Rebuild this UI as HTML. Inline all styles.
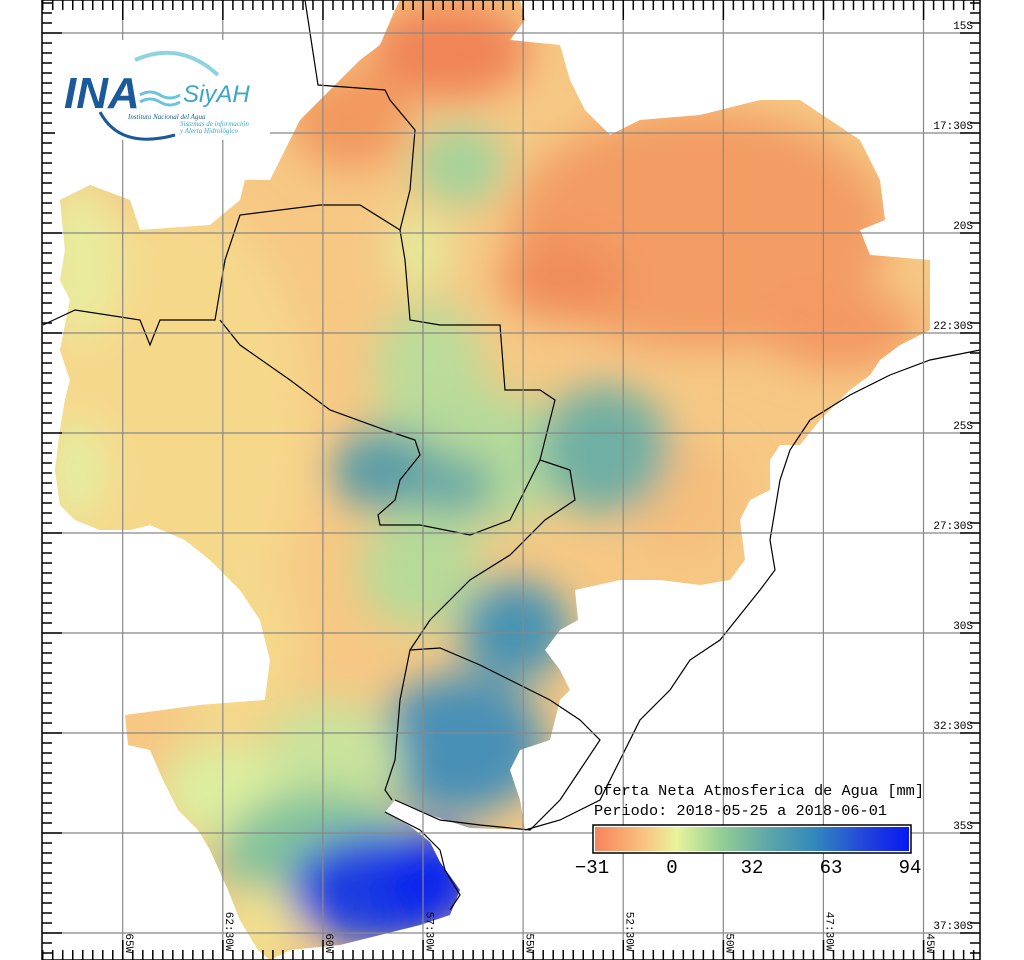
<!DOCTYPE html>
<html><head><meta charset="utf-8"><style>
html,body{margin:0;padding:0;background:#fff;}
svg{display:block;}
text{font-family:"Liberation Mono","DejaVu Sans Mono",monospace;}
</style></head><body>
<svg id="s" width="1024" height="960" viewBox="0 0 1024 960" xmlns="http://www.w3.org/2000/svg">
<defs>
<clipPath id="land">
<path d="M395,10 L400,0 L520,0 L525,20 L510,40 L560,45 L570,80 L585,110 L610,135 L640,120 L700,115 L760,100 L800,100 L830,120 L860,140 L880,180 L885,220 L860,230 L870,255 L930,260 L930,330 L900,345 L880,360 L870,375 L850,390 L820,420 L800,445 L780,445 L770,460 L770,490 L750,500 L740,520 L745,560 L730,580 L700,585 L660,580 L620,580 L575,590 L578,620 L560,630 L545,650 L560,670 L570,690 L560,700 L550,740 L520,750 L510,770 L520,800 L525,830 L470,828 L430,815 L395,800 L385,812 L410,826 L430,842 L440,862 L460,890 L450,915 L420,925 L380,935 L340,945 L290,950 L270,960 L258,950 L240,920 L228,890 L210,850 L198,830 L178,810 L163,780 L150,750 L128,745 L125,715 L200,705 L265,700 L270,660 L260,620 L240,590 L210,560 L185,540 L150,525 L130,530 L100,530 L75,520 L60,505 L55,470 L60,430 L65,400 L70,380 L60,350 L70,300 L60,280 L65,250 L60,200 L90,185 L130,200 L140,230 L210,225 L240,200 L245,180 L270,180 L280,160 L300,120 L330,90 L360,60 L380,45 Z"/>
</clipPath>
<filter id="bl" x="-20%" y="-20%" width="140%" height="140%"><feGaussianBlur stdDeviation="20"/></filter>
<linearGradient id="cb" x1="0" x2="1" y1="0" y2="0">
<stop offset="0" stop-color="#f7845a"/><stop offset="0.15" stop-color="#f9c07e"/>
<stop offset="0.26" stop-color="#e9f39c"/><stop offset="0.4" stop-color="#94cf94"/>
<stop offset="0.55" stop-color="#5fa6a8"/><stop offset="0.7" stop-color="#3288bc"/>
<stop offset="0.85" stop-color="#2348d8"/><stop offset="1" stop-color="#0818f4"/>
</linearGradient>
</defs>
<g clip-path="url(#land)">
<rect x="0" y="0" width="1024" height="960" fill="#f6c884"/>
<g filter="url(#bl)">
<ellipse cx="170" cy="430" rx="140" ry="230" fill="#f6d88b"/>
<ellipse cx="80" cy="260" rx="40" ry="80" fill="#e9ec9e"/>
<ellipse cx="75" cy="470" rx="30" ry="50" fill="#e4eea0"/>
<ellipse cx="230" cy="640" rx="70" ry="90" fill="#f5d98b"/>
<ellipse cx="450" cy="50" rx="80" ry="50" fill="#f08456"/>
<ellipse cx="350" cy="120" rx="60" ry="50" fill="#f2995f"/>
<ellipse cx="700" cy="230" rx="190" ry="120" fill="#f39c63"/>
<ellipse cx="560" cy="280" rx="60" ry="40" fill="#f08c5a"/>
<ellipse cx="840" cy="330" rx="80" ry="40" fill="#f39a62"/>
<ellipse cx="680" cy="500" rx="60" ry="60" fill="#f5be7c"/>
<ellipse cx="460" cy="165" rx="45" ry="40" fill="#a3d39b"/>
<ellipse cx="420" cy="250" rx="30" ry="40" fill="#e4ec9c"/>
<ellipse cx="430" cy="370" rx="55" ry="70" fill="#bcdc9a"/>
<ellipse cx="470" cy="460" rx="110" ry="70" fill="#b5da9a"/>
<ellipse cx="385" cy="470" rx="55" ry="40" fill="#5a9ca7"/>
<ellipse cx="450" cy="485" rx="45" ry="30" fill="#6aa9a4"/>
<ellipse cx="605" cy="450" rx="65" ry="65" fill="#70afa3"/>
<ellipse cx="420" cy="570" rx="60" ry="60" fill="#b7da98"/>
<ellipse cx="515" cy="630" rx="55" ry="50" fill="#4a93b2"/>
<ellipse cx="460" cy="745" rx="85" ry="70" fill="#4990b6"/>
<ellipse cx="330" cy="760" rx="70" ry="60" fill="#c9e39c"/>
<ellipse cx="220" cy="790" rx="60" ry="50" fill="#dcee9f"/>
<ellipse cx="320" cy="860" rx="100" ry="70" fill="#82c29c"/>
<ellipse cx="380" cy="890" rx="90" ry="55" fill="#1d3ee0"/>
<ellipse cx="430" cy="880" rx="50" ry="50" fill="#0d28ec"/>
<ellipse cx="260" cy="925" rx="40" ry="40" fill="#f1e08e"/>
</g>
</g>
<g fill="none" stroke="#000" stroke-width="1.2">
<polyline points="305,0 318,85 385,90 390,100 415,130 410,190 400,230 405,260 410,320 440,325 500,325 505,390 540,390 555,400 545,440 540,460 570,470 575,500 545,520 510,555 470,580 430,620 410,650 400,700 395,760 385,790 392,800"/>
<polyline points="43,325 75,310 140,320 150,345 160,320 215,320 225,260 240,215 320,205 360,205 400,230"/>
<polyline points="220,320 240,345 290,380 330,410 385,430 415,440 420,455 400,480 395,500 378,515 380,525 420,525 470,535 510,520 540,460"/>
<polyline points="410,650 440,648 480,665 510,680 550,700 580,720 600,740 580,770 560,800 530,830 480,825 440,820 395,800"/>
<polyline points="525,830 560,820 600,800 640,720 670,690 690,660 720,640 760,590 775,570 770,540 780,480 790,450 810,420 850,395 890,375 930,360 980,350"/>
<polyline points="385,812 420,830 440,850 445,870 460,895 450,910"/>
</g>
<g id="grid" stroke="#888" stroke-width="1.2"></g>
<g id="ticks" stroke="#000" stroke-width="1.5"></g>
<rect x="42" y="0" width="938" height="960" fill="none" stroke="#000" stroke-width="1.5"/>
<g id="labs" font-size="11" fill="#000"></g>
<rect x="55" y="40" width="215" height="100" fill="#fff"/>
<path d="M135,60 Q180,40 218,75" fill="none" stroke="#8fd3e0" stroke-width="4"/>
<path d="M100,112 Q120,150 175,135" fill="none" stroke="#1a5a9a" stroke-width="3"/>
<text x="64" y="108" font-style="italic" font-weight="bold" font-size="44" fill="#1a5a9a" style="font-family:'Liberation Sans',sans-serif">INA</text>
<path d="M140,95 q10,-6 20,0 t20,0 M140,102 q10,-6 20,0 t20,0" fill="none" stroke="#6cc3dc" stroke-width="3"/>
<text x="183" y="102" font-style="italic" font-size="24" fill="#3aa6c8" style="font-family:'Liberation Sans',sans-serif">SiyAH</text>
<text x="128" y="119" font-style="italic" font-size="7" fill="#1a5a9a" style="font-family:'Liberation Serif',serif">Instituto Nacional del Agua</text>
<text x="180" y="126" font-style="italic" font-size="7" fill="#3aa6c8" style="font-family:'Liberation Serif',serif">Sistemas de información</text>
<text x="180" y="133" font-style="italic" font-size="7" fill="#3aa6c8" style="font-family:'Liberation Serif',serif">y Alerta Hidrológico</text>
<text x="594" y="795" font-size="15" fill="#000" textLength="330" lengthAdjust="spacingAndGlyphs">Oferta Neta Atmosferica de Agua [mm]</text>
<text x="594" y="815" font-size="15" fill="#000" textLength="293" lengthAdjust="spacingAndGlyphs">Periodo: 2018-05-25 a 2018-06-01</text>
<rect x="593" y="825" width="318" height="28" fill="#fff" stroke="#000" stroke-width="1.5"/>
<rect x="595" y="827" width="314" height="24" fill="url(#cb)"/>
<g font-size="19" fill="#000" text-anchor="middle" style="font-family:'Liberation Sans',sans-serif;font-weight:300">
<text x="592" y="873">−31</text><text x="672" y="873">0</text><text x="752" y="873">32</text><text x="831" y="873">63</text><text x="910" y="873">94</text>
</g>
</svg>
<script>
var NS="http://www.w3.org/2000/svg";
function el(p,t,a,txt){var e=document.createElementNS(NS,t);for(var k in a)e.setAttribute(k,a[k]);if(txt)e.textContent=txt;document.getElementById(p).appendChild(e);return e;}
for(var i=0;i<9;i++){var x=122.7+i*100.1;el("grid","line",{x1:x,y1:0,x2:x,y2:960});}
for(var j=0;j<10;j++){var y=33+j*100;el("grid","line",{x1:42,y1:y,x2:980,y2:y});}
for(var x=42.7;x<980;x+=10.01){var maj=Math.abs(((x-122.7)/100.1)-Math.round((x-122.7)/100.1))<0.05;var L=maj?20:10;
el("ticks","line",{x1:x,y1:0,x2:x,y2:L});el("ticks","line",{x1:x,y1:960,x2:x,y2:960-L});}
for(var y=3;y<960;y+=10){var maj=((y-33)%100)==0;var L=maj?20:10;
el("ticks","line",{x1:42,y1:y,x2:42+L,y2:y});el("ticks","line",{x1:980,y1:y,x2:980-L,y2:y});}
var lat=["15S","17:30S","20S","22:30S","25S","27:30S","30S","32:30S","35S","37:30S"];
for(var j=0;j<10;j++){el("labs","text",{x:973,y:29+j*100,"text-anchor":"end"},lat[j]);}
var lon=["65W","62:30W","60W","57:30W","55W","52:30W","50W","47:30W","45W"];
for(var i=0;i<9;i++){var x=126+i*100.1;var y0=955-lon[i].length*7.2;
el("labs","text",{x:x,y:y0,transform:"rotate(90 "+x+" "+y0+")"},lon[i]);}
</script>
</body></html>
